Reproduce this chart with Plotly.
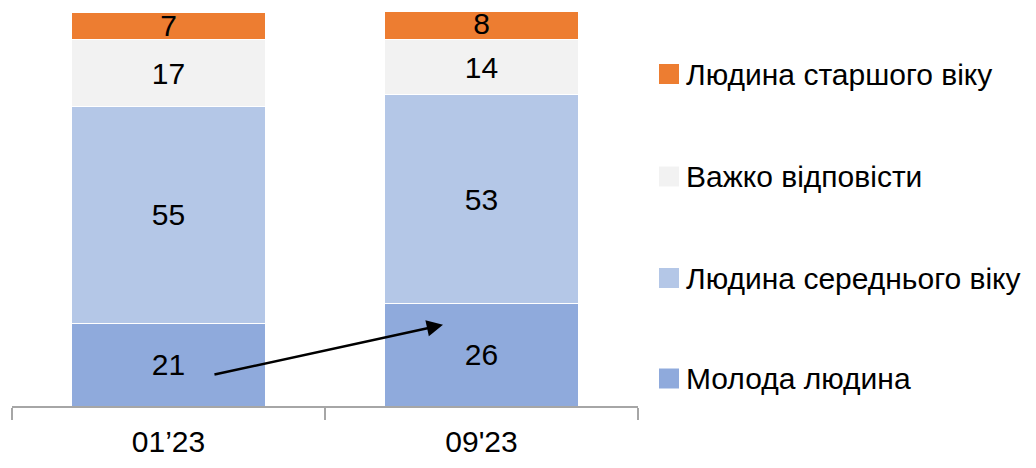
import plotly.graph_objects as go

categories = ["01’23", "09'23"]
series_names = ["Молода людина", "Людина середнього віку", "Важко відповісти", "Людина старшого віку"]
young = [21, 26]
middle = [55, 53]
hard = [17, 14]
old = [7, 8]
colors = ["#8FAADC", "#B4C7E7", "#F2F2F2", "#ED7D31"]

FONT = "Liberation Sans, Arial, sans-serif"
FS = 30

fig = go.Figure()
for name, vals, col in zip(series_names, [young, middle, hard, old], colors):
    fig.add_trace(go.Bar(
        x=categories, y=vals, name=name,
        marker=dict(color=col, line=dict(color="white", width=1)),
        width=0.617,
        text=[str(v) for v in vals], textposition="inside", textangle=0,
        insidetextanchor="middle", constraintext="none",
        textfont=dict(family=FONT, size=FS, color="black"),
        showlegend=False, cliponaxis=True,
    ))

# figure geometry (page has an 8px body margin)
W, H = 1028, 460
L, R, T, B = 4, 398, 4, 62
pw = W - L - R
ph = H - T - B
OFF = 8

def px2paper_x(p):
    return (p - OFF - L) / pw

def px2paper_y(p):
    return (H - B - (p - OFF)) / ph

legend_centers = [378.5, 278, 176.5, 74]
for name, col, cy in zip(series_names, colors, legend_centers):
    fig.add_shape(type="rect", xref="paper", yref="paper",
                  x0=px2paper_x(659), x1=px2paper_x(679),
                  y0=px2paper_y(cy + 10), y1=px2paper_y(cy - 10),
                  fillcolor=col, line=dict(width=0))
    fig.add_annotation(xref="paper", yref="paper", x=px2paper_x(684), y=px2paper_y(cy),
                       text=name, showarrow=False, xanchor="left", yanchor="middle",
                       font=dict(family=FONT, size=FS, color="black"))

# arrow from first bar's young segment to second bar's young segment
fig.add_annotation(x=0.877, y=20.6, ax=0.142, ay=7.9, xref="x", yref="y",
                   axref="x", ayref="y", text="", showarrow=True,
                   arrowhead=2, arrowsize=1.3, arrowwidth=2.5, arrowcolor="black")

fig.update_layout(
    barmode="stack",
    width=W, height=H,
    margin=dict(l=L, r=R, t=T, b=B),
    plot_bgcolor="white", paper_bgcolor="white",
    font=dict(family=FONT, size=FS, color="black"),
    xaxis=dict(range=[-0.5, 1.5], showline=True, linecolor="#A6A6A6", linewidth=1.5,
               ticks="outside", tickson="boundaries", ticklen=12, tickcolor="#A6A6A6",
               tickwidth=1.5, showgrid=False, ticklabelstandoff=8,
               tickfont=dict(family=FONT, size=FS)),
    yaxis=dict(range=[0, 100], visible=False, showgrid=False),
)

fig.write_html("out.html")
